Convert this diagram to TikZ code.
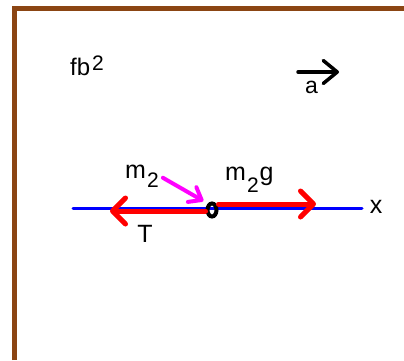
\documentclass[tikz,border=0pt]{standalone}
\usepackage{fontspec}
\setmainfont{Liberation Sans}
\usetikzlibrary{arrows.meta,shapes.geometric}
\definecolor{framebrown}{RGB}{139,69,19}
\definecolor{pullpink}{RGB}{255,0,255}

\begin{document}
\begin{tikzpicture}[x=1pt,y=-1pt,line cap=round,
    >={Straight Barb[round,length=13pt,width=26pt]},
    lbl/.style={inner sep=0pt,font=\fontsize{25}{28}\selectfont},
    force/.style={red,line width=5pt},
    pull/.style={pullpink,line width=4pt,-{Straight Barb[round,length=11pt,width=17pt]}}]
    \useasboundingbox (0,0) rectangle (404,360);
    % frame
    \draw[framebrown,line width=5pt,line cap=butt] (14.5,360) -- (14.5,8.5) -- (404,8.5);

    \node (title) [lbl,anchor=base west] at (70,75) {\fontsize{24}{28}\selectfont fb\kern2pt\raisebox{5pt}{\fontsize{21}{24}\selectfont 2}};
    \coordinate (accTail) at (298,72);
    \coordinate (accTip) at (339,72);
    \draw[line width=3.5pt,-{Straight Barb[round,length=14pt,width=23pt]}] (accTail) -- (accTip);
    \node (acc) [lbl,anchor=base] at (311.5,93) {\fontsize{23}{26}\selectfont a};

    % axis and mass
    \coordinate (axL) at (73,208);
    \coordinate (axR) at (362,208);
    \draw[blue,line width=3pt] (axL) -- (axR);
    \node (xlbl) [lbl,anchor=base] at (376,213) {x};
    \node (mass) [draw,ellipse,line width=4pt,minimum width=9pt,minimum height=13pt,inner sep=0pt] at (212,210) {};

    % forces
    \coordinate (gTip) at (316,204);
    \coordinate (tTip) at (110,211);
    \draw[force,->] ([yshift=6pt]mass.east) -- (gTip);
    \draw[force,->] ([yshift=-1pt]mass.west) -- (tTip);
    \node (m2g) [lbl,anchor=base west] at (225,180) {m\kern1pt\raisebox{-12pt}{\fontsize{21}{24}\selectfont 2}\kern1pt g};
    \node (tlbl) [lbl,anchor=base] at (145,242) {T};

    \node (m2) [lbl,anchor=base west] at (125,178) {m\kern1pt\raisebox{-9pt}{\fontsize{21}{24}\selectfont 2}};
    \draw[pull] ([shift={(4pt,-2pt)}]m2.east) -- ([shift={(-4pt,3pt)}]mass.north west);
\end{tikzpicture}
\end{document}
